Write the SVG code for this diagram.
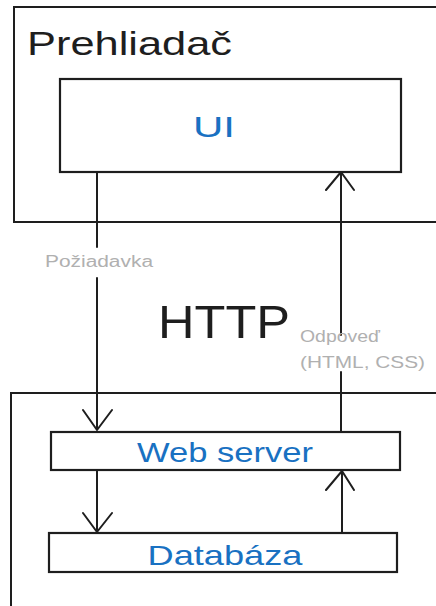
<svg xmlns="http://www.w3.org/2000/svg" width="436" height="606" viewBox="0 0 436 606">
<style>
.box{fill:#fff;stroke:#1e1e1e;stroke-width:2.2}
.frame{fill:none;stroke:#1e1e1e;stroke-width:2}
.ln{fill:none;stroke:#1e1e1e;stroke-width:2;stroke-linecap:round;stroke-linejoin:round}
.t{font-family:"Liberation Sans",Arial,sans-serif}
.blue{fill:#1971c2}
.gray{fill:#b0b0b0}
.blk{fill:#1e1e1e}
</style>
<rect width="436" height="606" fill="#fff"/>
<g id="prehliadac">
<path class="frame" d="M437 7 L14 7 L14 222 L437 222"/>
<text class="t blk" x="27" y="55" font-size="34" textLength="205" lengthAdjust="spacingAndGlyphs">Prehliadač</text>
</g>
<g id="server-side">
<path class="frame" d="M437 393 L11 393 L11 607"/>
</g>
<g id="ui">
<rect class="box" x="60" y="79" width="341" height="93"/>
<text class="t blue" x="214" y="137" font-size="30" text-anchor="middle" textLength="42" lengthAdjust="spacingAndGlyphs">UI</text>
</g>
<g id="webserver">
<rect class="box" x="51" y="432" width="349" height="38"/>
<text class="t blue" x="225" y="462" font-size="28" text-anchor="middle" textLength="176" lengthAdjust="spacingAndGlyphs">Web server</text>
</g>
<g id="databaza">
<rect class="box" x="49" y="533" width="348" height="39"/>
<text class="t blue" x="225" y="565" font-size="28" text-anchor="middle" textLength="155" lengthAdjust="spacingAndGlyphs">Databáza</text>
</g>
<g id="http">
<text class="t blk" x="224" y="338" font-size="46" text-anchor="middle" textLength="132" lengthAdjust="spacingAndGlyphs">HTTP</text>
</g>
<g id="connectors">
<path class="ln" d="M97 172 L97 247 M97 278 L97 430 M83 410 L97 430 L112 410"/>
<path class="ln" d="M341 432 L341 372 M341 335 L341 172 M326 190 L341 172 L354 190"/>
<path class="ln" d="M97 470 L97 532 M83 513 L97 532 L112 513"/>
<path class="ln" d="M342 533 L342 471 M326 490 L342 471 L354 490"/>
<text class="t gray" x="45" y="267" font-size="16" textLength="108" lengthAdjust="spacingAndGlyphs">Požiadavka</text>
<text class="t gray" x="300" y="342" font-size="17" textLength="80" lengthAdjust="spacingAndGlyphs">Odpoveď</text>
<text class="t gray" x="300" y="368" font-size="17" textLength="125" lengthAdjust="spacingAndGlyphs">(HTML, CSS)</text>
</g>
</svg>
